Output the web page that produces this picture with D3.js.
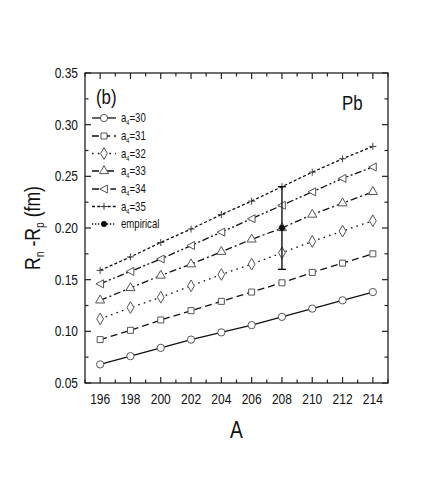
<!DOCTYPE html>
<html><head><meta charset="utf-8">
<script src="https://cdnjs.cloudflare.com/ajax/libs/d3/7.8.5/d3.min.js"></script>
<style>
body{margin:0;background:#fff;}
text{font-family:"Liberation Sans",Arial,sans-serif;fill:#111;}
</style></head>
<body><svg id="c" width="447" height="480"></svg>
<script>
const A = [196,198,200,202,204,206,208,210,212,214];
const a4_30 = [0.068,0.076,0.084,0.092,0.099,0.106,0.114,0.122,0.130,0.138];
const a4_31 = [0.092,0.101,0.111,0.120,0.129,0.138,0.147,0.157,0.166,0.175];
const a4_32 = [0.112,0.123,0.133,0.144,0.155,0.165,0.176,0.187,0.197,0.207];
const a4_33 = [0.130,0.142,0.154,0.165,0.177,0.189,0.200,0.213,0.224,0.235];
const a4_34 = [0.146,0.158,0.170,0.183,0.196,0.209,0.222,0.235,0.248,0.259];
const a4_35 = [0.159,0.172,0.186,0.199,0.213,0.226,0.240,0.254,0.267,0.279];
const seriesNames = ["30","31","32","33","34","35"];
const empiricalA = [208];
const empiricalVal = [0.200];
const empiricalErr = [0.040];
const xTicks = [196,198,200,202,204,206,208,210,212,214];
const yTicks = [0.05,0.10,0.15,0.20,0.25,0.30,0.35];

const svg = d3.select("#c");
const L=85,R=388,T=73,B=383;
const SX=0.8;
const x = d3.scaleLinear().domain([195,215]).range([L,R]);
const y = d3.scaleLinear().domain([0.05,0.35]).range([B,T]);

function txt(px,py,size,anchor,rot){
  const g=svg.append("g").attr("transform",`translate(${px},${py})`+(rot?` rotate(${rot})`:"")+` scale(${SX},1)`);
  return g.append("text").attr("font-size",size).attr("text-anchor",anchor||"start");
}

const allSeries=[a4_30,a4_31,a4_32,a4_33,a4_34,a4_35];
const dashes=[null,"7,4","1.6,4.2","7,3,2,3","7,2.5,2,2.5,2,2.5","3,2.2"];
const symbols=[d3.symbolCircle,d3.symbolSquare,d3.symbolDiamond,d3.symbolTriangle,"left",d3.symbolCross];
const symSize=[42,36,40,36,32,40];

function drawMarker(g,i,cx,cy){
  const s=symbols[i];
  if(s==="left"){
    g.append("path").attr("d",`M${cx-4.2},${cy}L${cx+3.4},${cy-4}L${cx+3.4},${cy+4}Z`)
     .attr("fill","#fff").attr("stroke","#555").attr("stroke-width",1);
  } else if(s===d3.symbolCross){
    g.append("path").attr("d",`M${cx-3.5},${cy}H${cx+3.5}M${cx},${cy-3.5}V${cy+3.5}`)
     .attr("stroke","#444").attr("stroke-width",1).attr("fill","none");
  } else {
    g.append("path").attr("d",d3.symbol().type(s).size(symSize[i])())
     .attr("transform",`translate(${cx},${cy})`)
     .attr("fill","#fff").attr("stroke","#555").attr("stroke-width",1);
  }
}

const line=d3.line().x(d=>x(d[0])).y(d=>y(d[1]));
const plot=svg.append("g");
allSeries.forEach((vals,i)=>{
  const pts=A.map((a,j)=>[a,vals[j]]);
  plot.append("path").attr("d",line(pts)).attr("fill","none").attr("stroke","#111")
    .attr("stroke-width",1.3).attr("stroke-dasharray",dashes[i]);
  pts.forEach(p=>drawMarker(plot,i,x(p[0]),y(p[1])));
});

// empirical
empiricalA.forEach((a,j)=>{
  const cx=x(a), v=empiricalVal[j], e=empiricalErr[j];
  plot.append("line").attr("x1",cx).attr("x2",cx).attr("y1",y(v-e)).attr("y2",y(v+e)).attr("stroke","#111").attr("stroke-width",1.4);
  [v-e,v+e].forEach(w=>plot.append("line").attr("x1",cx-4).attr("x2",cx+4).attr("y1",y(w)).attr("y2",y(w)).attr("stroke","#111").attr("stroke-width",1.4));
  plot.append("circle").attr("cx",cx).attr("cy",y(v)).attr("r",3).attr("fill","#111");
});

// frame
svg.append("rect").attr("x",L).attr("y",T).attr("width",R-L).attr("height",B-T).attr("fill","none").attr("stroke","#222").attr("stroke-width",1.3);

// ticks
const ax=svg.append("g").attr("stroke","#222").attr("stroke-width",1.2);
d3.range(195,216,1).forEach(v=>{
  const len = xTicks.includes(v)?6:3.5;
  ax.append("line").attr("x1",x(v)).attr("x2",x(v)).attr("y1",B).attr("y2",B-len);
  ax.append("line").attr("x1",x(v)).attr("x2",x(v)).attr("y1",T).attr("y2",T+len);
});
d3.range(0,13).map(k=>0.05+k*0.025).forEach(v=>{
  const isMaj = Math.abs(Math.round(v*20)-v*20)<1e-6;
  const len = isMaj?6:3.5;
  ax.append("line").attr("x1",L).attr("x2",L+len).attr("y1",y(v)).attr("y2",y(v));
  ax.append("line").attr("x1",R).attr("x2",R-len).attr("y1",y(v)).attr("y2",y(v));
});

// tick labels
xTicks.forEach(v=>txt(x(v),404,15,"middle").text(v));
yTicks.forEach(v=>txt(78,y(v)+5,15,"end").text(v.toFixed(2)));

// axis titles
txt((L+R)/2,438,24,"middle").text("A");
const yt=txt(40,(T+B)/2,22,"middle",-90);
yt.append("tspan").text("R");
yt.append("tspan").attr("font-size",13).attr("dy",4).text("n");
yt.append("tspan").attr("dy",-4).text(" -R");
yt.append("tspan").attr("font-size",13).attr("dy",4).text("p");
yt.append("tspan").attr("dy",-4).text("  (fm)");

// annotations
txt(96,104,21,"start").text("(b)");
txt(342,110,21,"start").text("Pb");

// legend
const legY=[118,136,153.5,171,189,206.5];
seriesNames.forEach((n,i)=>{
  const g=svg.append("g");
  g.append("line").attr("x1",92).attr("x2",116).attr("y1",legY[i]).attr("y2",legY[i]).attr("stroke","#111").attr("stroke-width",1.3).attr("stroke-dasharray",dashes[i]);
  drawMarker(g,i,104,legY[i]);
  const t=txt(121,legY[i]+4,12,"start");
  t.append("tspan").text("a");
  t.append("tspan").attr("font-size",7).attr("dy",3).text("4");
  t.append("tspan").attr("dy",-3).text("="+n);
});
{
  const g=svg.append("g"), ly=224;
  g.append("line").attr("x1",92).attr("x2",116).attr("y1",ly).attr("y2",ly).attr("stroke","#111").attr("stroke-width",1.3).attr("stroke-dasharray","1.3,1.7");
  g.append("circle").attr("cx",104).attr("cy",ly).attr("r",3).attr("fill","#111");
  txt(121,ly+4,12,"start").text("empirical");
}
</script></body></html>
